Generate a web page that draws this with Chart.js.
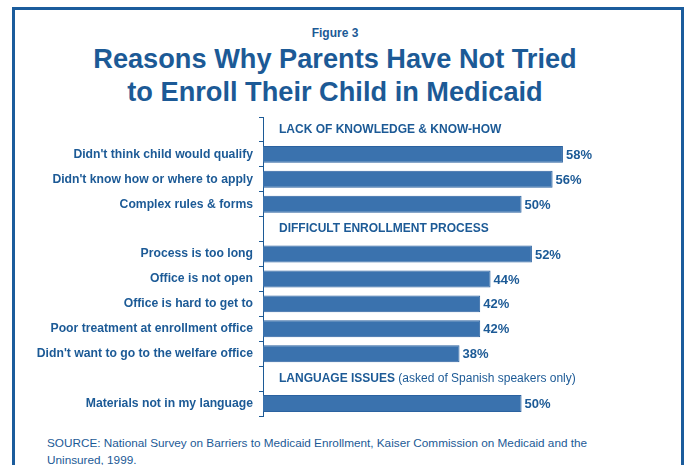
<!DOCTYPE html>
<html>
<head>
<meta charset="utf-8">
<script src="https://cdn.jsdelivr.net/npm/chart.js@4.4.1/dist/chart.umd.min.js"></script>
<style>
  html, body { margin: 0; padding: 0; background: #fff; }
  body { width: 686px; height: 465px; position: relative; overflow: hidden; font-family: "Liberation Sans", Arial, sans-serif; color: #1c5a96; }
  .frame { position: absolute; left: 12px; top: 7px; width: 672px; height: 520px; box-sizing: border-box; border: 3px solid #1b5c9c; }
  .fig { position: absolute; left: 0; width: 670px; top: 26px; text-align: center; font-weight: bold; font-size: 12px; }
  .title { position: absolute; left: 0; width: 670px; top: 42px; text-align: center; font-weight: bold; font-size: 27.2px; line-height: 33px; }
  .source { position: absolute; left: 47px; top: 434px; font-size: 11.75px; line-height: 17px; }
  canvas { position: absolute; left: 0; top: 0; }
</style>
</head>
<body>
<div class="frame"></div>
<div class="fig">Figure 3</div>
<div class="title">Reasons Why Parents Have Not Tried<br>to Enroll Their Child in Medicaid</div>
<div class="source">SOURCE: National Survey on Barriers to Medicaid Enrollment, Kaiser Commission on Medicaid and the<br>Uninsured, 1999.</div>
<canvas id="reasons" width="686" height="465"></canvas>
<script>
const groups = ['LACK OF KNOWLEDGE & KNOW-HOW', 'DIFFICULT ENROLLMENT PROCESS', 'LANGUAGE ISSUES'];
const groupNotes = ['', '', '(asked of Spanish speakers only)'];
const reasons = [
  ["Didn't think child would qualify", "Didn't know how or where to apply", 'Complex rules & forms'],
  ['Process is too long', 'Office is not open', 'Office is hard to get to', 'Poor treatment at enrollment office', "Didn't want to go to the welfare office"],
  ['Materials not in my language']
];
const percents = [
  [58, 56, 50],
  [52, 44, 42, 42, 38],
  [50]
];

const blue = '#1c5a96';
const fontFamily = '"Liberation Sans", Arial, sans-serif';

// one heading row per group, then its bars
const labels = [];
const values = [];
const headRows = {};
groups.forEach((g, i) => {
  headRows[labels.length] = i;
  labels.push('');
  values.push(null);
  reasons[i].forEach((r, j) => {
    labels.push(r);
    values.push(percents[i][j]);
  });
});

const groupHeads = {
  id: 'groupHeads',
  afterDatasetsDraw(chart) {
    const c = chart.ctx;
    const y = chart.scales.y;
    c.save();
    c.fillStyle = blue;
    c.textBaseline = 'middle';
    Object.keys(headRows).forEach(row => {
      const i = headRows[row];
      const py = y.getPixelForValue(+row);
      const px = chart.chartArea.left + 16;
      c.font = 'bold 12px ' + fontFamily;
      c.fillText(groups[i], px, py);
      if (groupNotes[i]) {
        const w = c.measureText(groups[i] + ' ').width;
        c.font = '12px ' + fontFamily;
        c.fillText(groupNotes[i], px + w, py);
      }
    });
    c.restore();
  }
};

const valueLabels = {
  id: 'valueLabels',
  afterDatasetsDraw(chart) {
    const c = chart.ctx;
    const meta = chart.getDatasetMeta(0);
    c.save();
    c.fillStyle = blue;
    c.font = 'bold 13px ' + fontFamily;
    c.textBaseline = 'middle';
    meta.data.forEach((bar, i) => {
      const v = values[i];
      if (v == null) return;
      c.fillText(v + '%', bar.x + 3, bar.y + 1);
    });
    c.restore();
  }
};

new Chart(document.getElementById('reasons'), {
  type: 'bar',
  data: {
    labels: labels,
    datasets: [{
      data: values,
      backgroundColor: '#3a72ae',
      borderColor: '#2b62a0',
      borderWidth: 1,
      barPercentage: 0.68,
      categoryPercentage: 1
    }]
  },
  options: {
    indexAxis: 'y',
    responsive: false,
    animation: false,
    layout: { padding: { top: 117, bottom: 49, left: 0, right: 61 } },
    plugins: {
      legend: { display: false },
      tooltip: { enabled: false }
    },
    scales: {
      x: { display: false, min: 0, max: 70 },
      y: {
        afterFit(scale) { scale.width = 263; },
        border: { display: true, color: blue, width: 1 },
        grid: { display: true, drawOnChartArea: false, drawTicks: true, tickLength: 4, color: blue, offset: true },
        ticks: {
          color: blue,
          padding: 6,
          autoSkip: false,
          font: { family: fontFamily, size: 12.2, weight: 'bold' }
        }
      }
    }
  },
  plugins: [groupHeads, valueLabels]
});
</script>
</body>
</html>
